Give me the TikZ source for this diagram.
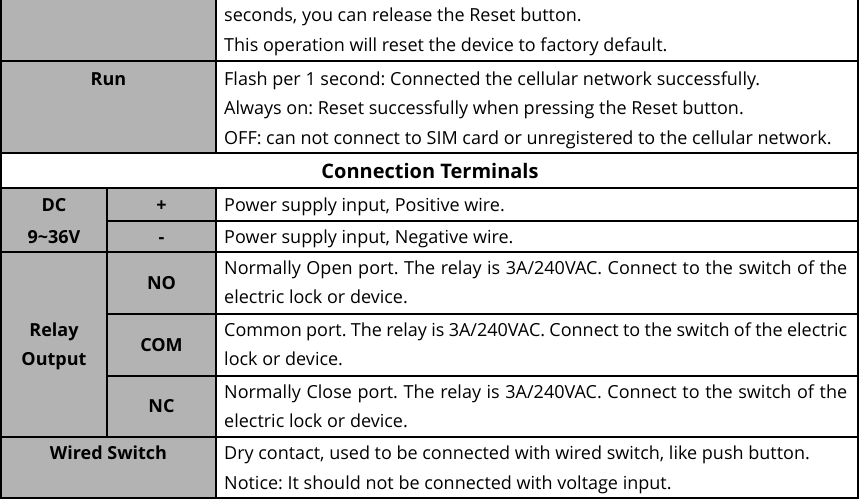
\documentclass[tikz,border=0pt]{standalone}
\usepackage{fontspec}
\setmainfont{Open Sans}
\frenchspacing
\definecolor{cellgrey}{RGB}{179,179,179}
\tikzset{
  grid/.style={line width=1.8pt, black},
  txt/.style={inner sep=0pt, anchor=base west, font=\fontsize{18}{21}\selectfont},
  lbl/.style={inner sep=0pt, anchor=base, font=\fontsize{18}{21}\selectfont\bfseries},
  head/.style={inner sep=0pt, anchor=base, font=\fontsize{20}{24}\selectfont\bfseries},
}
\begin{document}
\begin{tikzpicture}[x=1pt,y=-1pt]
\useasboundingbox (0,0) rectangle (863,503);
% grey fills
\fill[cellgrey] (1,0) rectangle (216,153);
\fill[cellgrey] (1,188) rectangle (216,498);
% grid lines
\draw[grid] (1,0) -- (1,498) -- (858,498) -- (858,0);
\draw[grid] (216,0) -- (216,153);
\draw[grid] (216,188) -- (216,498);
\draw[grid] (107,188) -- (107,437);
\draw[grid] (1,61) -- (858,61);
\draw[grid] (1,153) -- (858,153);
\draw[grid] (1,188) -- (858,188);
\draw[grid] (107,221) -- (858,221);
\draw[grid] (1,252) -- (858,252);
\draw[grid] (107,314) -- (858,314);
\draw[grid] (107,376) -- (858,376);
\draw[grid] (1,437) -- (858,437);
% row 0
\node[txt] (r0a) at (224,21.5) {seconds, you can release the Reset button.};
\node[txt] (r0b) at (224,51.5) {This operation will reset the device to factory default.};
% Run
\node[lbl] (run) at (108.5,85) {Run};
\node[txt] (runa) at (224,85) {Flash per 1 second: Connected the cellular network successfully.};
\node[txt] (runb) at (224,114.5) {Always on: Reset successfully when pressing the Reset button.};
\node[txt] (runc) at (224,144) {OFF: can not connect to SIM card or unregistered to the cellular network.};
% header
\node[head] (ct) at (430,178) {Connection Terminals};
% DC
\node[lbl] (dc) at (54,211) {DC};
\node[lbl] (dcv) at (54,243) {9\textasciitilde 36V};
\node[lbl] (plus) at (161.5,211) {+};
\node[lbl] (minus) at (161.5,243) {-};
\node[txt] (plust) at (224,211) {Power supply input, Positive wire.};
\node[txt] (minust) at (224,243) {Power supply input, Negative wire.};
% Relay
\node[lbl] (relay) at (54,336) {Relay};
\node[lbl] (output) at (54,365.5) {Output};
\node[lbl] (no) at (161.5,289) {NO};
\node[lbl] (com) at (161.5,351) {COM};
\node[lbl] (nc) at (161.5,412.5) {NC};
\node[txt] (noa) at (224,274) {\makebox[623pt][s]{Normally Open port. The relay is 3A/240VAC. Connect to the switch of the}};
\node[txt] (nob) at (224,303.5) {electric lock or device.};
\node[txt] (coma) at (224,336) {\makebox[623pt][s]{Common port. The relay is 3A/240VAC. Connect to the switch of the electric}};
\node[txt] (comb) at (224,365.5) {lock or device.};
\node[txt] (nca) at (224,398) {\makebox[623pt][s]{Normally Close port. The relay is 3A/240VAC. Connect to the switch of the}};
\node[txt] (ncb) at (224,427.5) {electric lock or device.};
% Wired switch
\node[lbl] (ws) at (108.5,459) {Wired Switch};
\node[txt] (wsa) at (224,459) {Dry contact, used to be connected with wired switch, like push button.};
\node[txt] (wsb) at (224,489) {Notice: It should not be connected with voltage input.};
\end{tikzpicture}
\end{document}
